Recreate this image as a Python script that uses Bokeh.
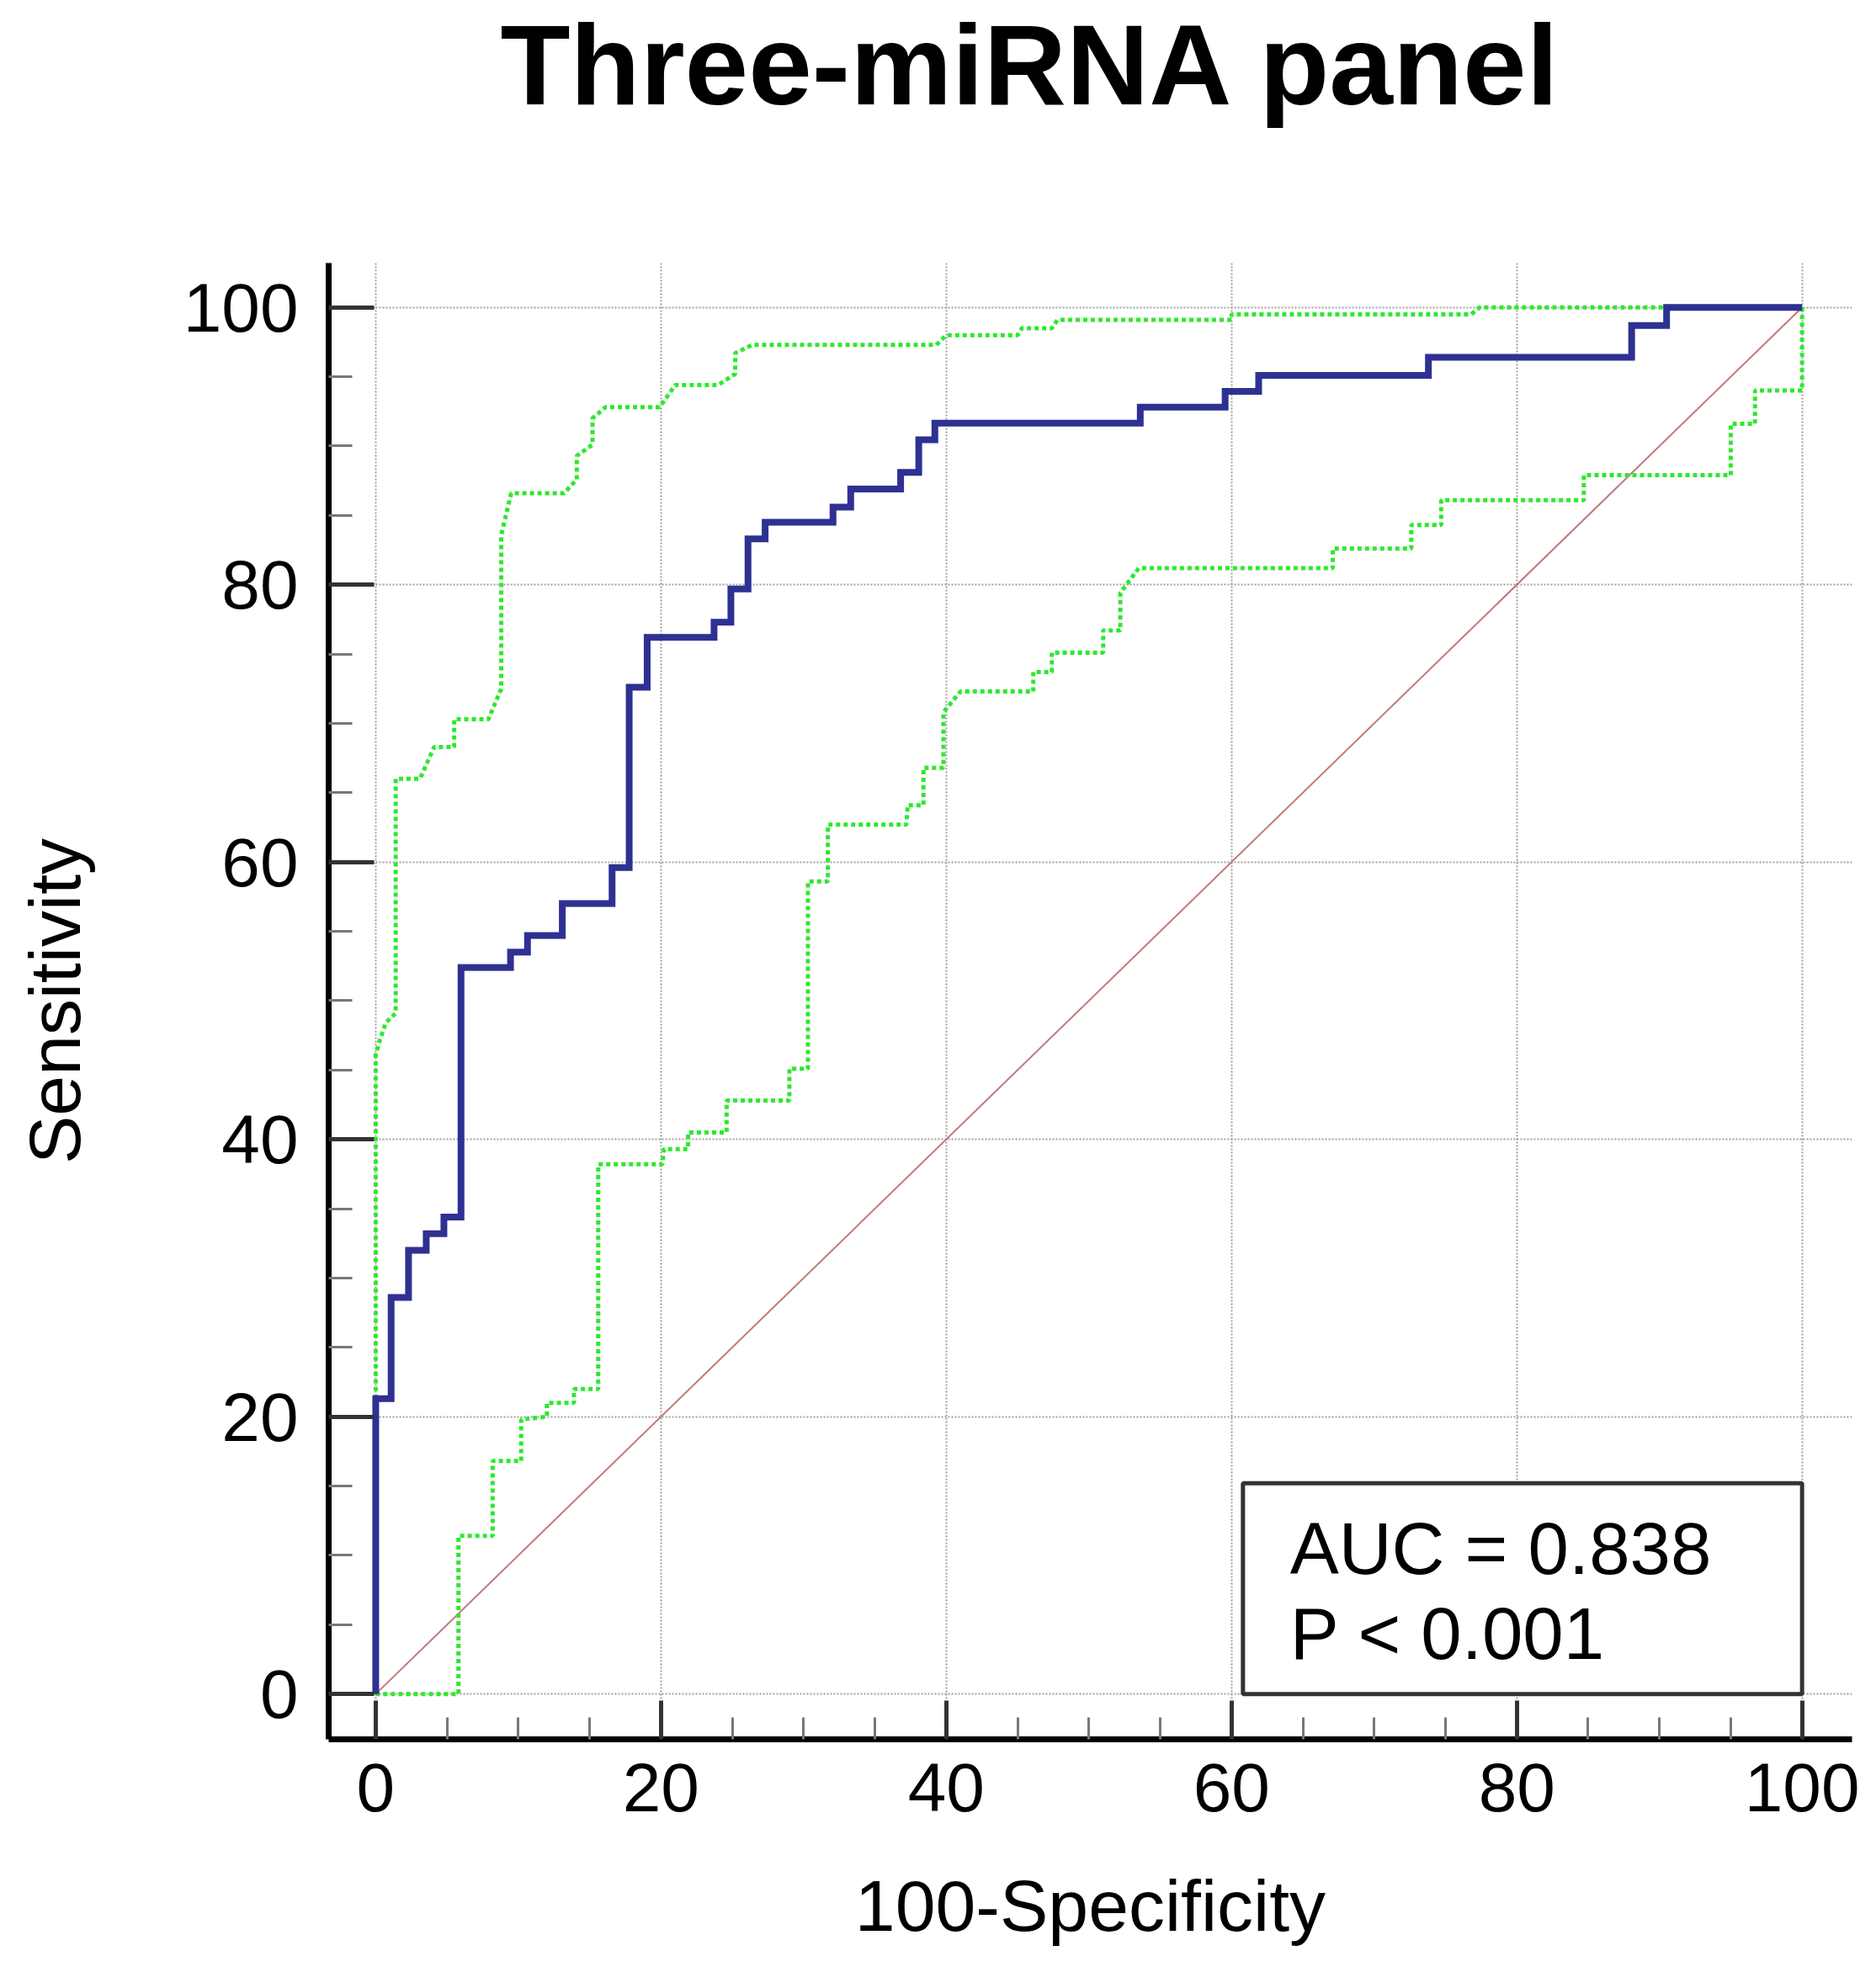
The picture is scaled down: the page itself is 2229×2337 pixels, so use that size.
from bokeh.plotting import figure
from bokeh.models import FixedTicker, BoxAnnotation, Label, Range1d, Title, LinearAxis
from bokeh.embed import file_html
from bokeh.resources import INLINE

# ---------------- data ----------------
title_text = "Three-miRNA panel"
x_ticks = [0, 20, 40, 60, 80, 100]
y_ticks = [0, 20, 40, 60, 80, 100]
minor_ticks = [5, 10, 15, 25, 30, 35, 45, 50, 55, 65, 70, 75, 85, 90, 95]

# ROC curve (step points: 100-specificity, sensitivity)
roc_fpr = [0, 0, 1.08, 2.3, 3.54, 4.78, 5.98, 9.45, 10.64, 13.08, 16.57, 17.77,
           19.03, 23.72, 24.9, 26.1, 27.3, 32.06, 33.3, 36.8, 38.07, 39.2, 53.6,
           59.55, 61.9, 73.8, 88.05, 90.5, 100]
roc_tpr = [0, 21.3, 28.6, 32.0, 33.2, 34.4, 52.4, 53.5, 54.7, 57.0, 59.6, 72.6,
           76.2, 77.3, 79.7, 83.3, 84.5, 85.6, 86.9, 88.1, 90.45, 91.65, 92.8,
           93.95, 95.1, 96.4, 98.7, 100, 100]

# upper 95% confidence bound
ci_upper_x = [0, 0, 0.3, 0.7, 1.4, 1.4, 3.1, 4.1, 5.5, 5.5, 7.9, 8.8, 8.8, 9.5,
              13.2, 14.1, 14.1, 15.2, 15.2, 16.1, 19.9, 21.0, 24.0, 25.2, 25.2,
              26.4, 39.3, 40.0, 45.0, 45.3, 47.4, 47.8, 60, 60, 76.8, 77.4, 100]
ci_upper_y = [0, 46.1, 47.2, 48.4, 49.1, 66.0, 66.0, 68.3, 68.3, 70.3, 70.3, 72.5,
              83.6, 86.6, 86.6, 87.6, 89.3, 90.1, 92.0, 92.8, 92.8, 94.4, 94.4,
              95.2, 96.7, 97.3, 97.3, 98.0, 98.0, 98.5, 98.5, 99.1, 99.1, 99.5,
              99.5, 100, 100]

# lower 95% confidence bound
ci_lower_x = [0, 5.8, 5.8, 8.2, 8.2, 10.2, 10.2, 12.0, 12.0, 13.9, 13.9, 15.6,
              15.6, 20.1, 20.2, 21.9, 21.9, 24.6, 24.6, 29.0, 29.0, 30.3, 30.3,
              31.7, 31.7, 37.2, 37.3, 38.4, 38.4, 39.8, 39.8, 41.0, 46.1, 46.1,
              47.4, 47.4, 51.0, 51.0, 52.2, 52.2, 53.5, 67.1, 67.1, 72.6, 72.6,
              74.7, 74.7, 84.7, 84.7, 95.0, 95.0, 96.7, 96.7, 100, 100]
ci_lower_y = [0, 0, 11.4, 11.4, 16.8, 16.8, 19.8, 20.0, 21.0, 21.0, 22.0, 22.0,
              38.2, 38.2, 39.3, 39.3, 40.5, 40.5, 42.8, 42.8, 45.1, 45.1, 58.6,
              58.6, 62.7, 62.7, 64.1, 64.1, 66.8, 66.8, 70.8, 72.3, 72.3, 73.7,
              73.7, 75.1, 75.1, 76.7, 76.7, 79.4, 81.2, 81.2, 82.6, 82.6, 84.3,
              84.3, 86.1, 86.1, 87.9, 87.9, 91.6, 91.6, 94.0, 94.0, 100]

# reference diagonal
diag_x = [0, 100]
diag_y = [0, 100]

auc_text = "AUC = 0.838"
p_text = "P < 0.001"

# ---------------- figure ----------------
FONT = "Liberation Sans"

p = figure(width=2213, height=2321, output_backend="svg", toolbar_location=None,
           title=None,
           x_range=Range1d(-3.3, 103.5), y_range=Range1d(-3.27, 103.2),
           min_border_left=390, min_border_right=13,
           min_border_top=309, min_border_bottom=255,
           background_fill_color="white", border_fill_color="white")
p.outline_line_color = None

xa = p.below[0]
ya = p.left[0]

for ax, ticks, tin, mtin, lab, std in (
        (xa, x_ticks, 46, 26, "100-Specificity", 61),
        (ya, y_ticks, 54, 28, "Sensitivity", 102)):
    ax.ticker = FixedTicker(ticks=ticks, minor_ticks=minor_ticks)
    ax.axis_line_color = "black"
    ax.axis_line_width = 7
    ax.major_tick_in = tin
    ax.major_tick_out = 0
    ax.minor_tick_in = mtin
    ax.minor_tick_out = 0
    ax.major_tick_line_color = "#333333"
    ax.major_tick_line_width = 5
    ax.minor_tick_line_color = "#777777"
    ax.minor_tick_line_width = 3
    ax.major_label_text_font = FONT
    ax.major_label_text_font_size = "82px"
    ax.major_label_text_color = "black"
    ax.axis_label = lab
    ax.axis_label_text_font = FONT
    ax.axis_label_text_font_size = "86px"
    ax.axis_label_text_font_style = "normal"
    ax.axis_label_text_color = "black"
    ax.axis_label_standoff = std

xa.major_label_standoff = 28
ya.major_label_standoff = 36

# blank spacer between frame and title (white tick on white, empty label)
spacer = LinearAxis(ticker=FixedTicker(ticks=[50], minor_ticks=[]),
                    axis_line_color=None, major_tick_out=158, major_tick_in=0,
                    minor_tick_out=0, minor_tick_in=0, major_label_standoff=0,
                    major_tick_line_color="white", major_tick_line_width=1,
                    minor_tick_line_color=None,
                    major_label_overrides={50: ""},
                    major_label_text_font_size="1px")
p.add_layout(spacer, "above")

p.add_layout(Title(text=title_text, align="left", offset=204,
                   vertical_align="top", standoff=0, text_font=FONT,
                   text_font_size="136px", text_font_style="bold",
                   text_color="black"), "above")

for g in (p.xgrid[0], p.ygrid[0]):
    g.grid_line_color = "#a0a0a0"
    g.grid_line_width = 2
    g.grid_line_dash = "2 2"

# diagonal
p.line(diag_x, diag_y, line_color="#c47878", line_width=2)
# confidence bounds
p.line(ci_upper_x, ci_upper_y, line_color="#2ee82e", line_width=5, line_dash="5 4")
p.line(ci_lower_x, ci_lower_y, line_color="#2ee82e", line_width=5, line_dash="5 4")
# ROC curve
p.step(roc_fpr, roc_tpr, mode="after", line_color="#2e3192", line_width=8,
       line_join="miter")

# AUC box
p.add_layout(BoxAnnotation(left=60.8, right=100, bottom=0, top=15.2,
                           fill_color="white", fill_alpha=1.0,
                           line_color="#333333", line_alpha=1.0, line_width=5))
p.add_layout(Label(x=64.1, y=10.5, text=auc_text, text_font=FONT,
                   text_font_size="87px", text_color="black",
                   text_baseline="alphabetic"))
p.add_layout(Label(x=64.1, y=4.4, text=p_text, text_font=FONT,
                   text_font_size="87px", text_color="black",
                   text_baseline="alphabetic"))

open("out.html", "w").write(file_html(p, INLINE))
